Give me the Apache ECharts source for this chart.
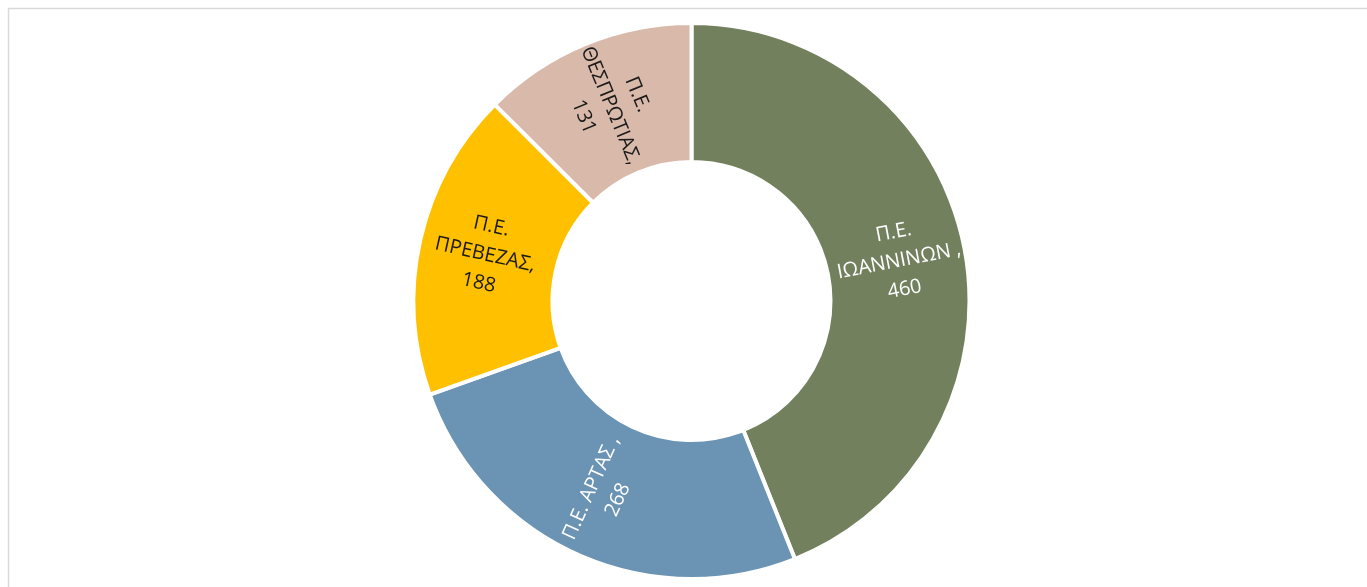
<!DOCTYPE html>
<html>
<head>
<meta charset="utf-8">
<script src="https://cdn.jsdelivr.net/npm/echarts@6/dist/echarts.min.js"></script>
<style>
html,body{margin:0;padding:0;background:#fff;}
#c{width:1367px;height:587px;}
</style>
</head>
<body>
<div id="c"></div>
<script>
const categories = ['Π.Ε.\nΙΩΑΝΝΙΝΩΝ ,', 'Π.Ε. ΑΡΤΑΣ ,', 'Π.Ε.\nΠΡΕΒΕΖΑΣ,', 'Π.Ε.\nΘΕΣΠΡΩΤΙΑΣ,'];
const values = [460, 268, 188, 131];
const colors = ['#72805e', '#6a93b4', '#ffc000', '#d8b9aa'];
const labelColors = ['#ffffff', '#ffffff', '#1a1a1a', '#1a1a1a'];

const chart = echarts.init(document.getElementById('c'));
chart.setOption({
  animation: false,
  graphic: [{
    type: 'rect',
    shape: {x: 8.5, y: 8.5, width: 1380, height: 600},
    style: {fill: 'none', stroke: '#d9d9d9', lineWidth: 1.5},
    silent: true
  }],
  series: [{
    type: 'pie',
    center: [691.5, 301],
    radius: [139, 278],
    startAngle: 90,
    clockwise: true,
    itemStyle: {borderColor: '#ffffff', borderWidth: 4},
    label: {
      show: true,
      position: 'inside',
      rotate: 'radial',
      fontFamily: 'Open Sans',
      fontSize: 20,
      lineHeight: 29,
      align: 'center',
      formatter: p => p.name + '\n' + p.value
    },
    labelLine: {show: false},
    data: categories.map((c, i) => ({
      name: c,
      value: values[i],
      itemStyle: {color: colors[i]},
      label: {color: labelColors[i]}
    }))
  }]
});
</script>
</body>
</html>
